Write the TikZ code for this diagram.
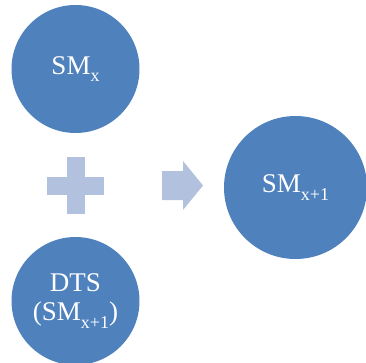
\documentclass[tikz,border=0pt]{standalone}
\usepackage{fontspec}
\setmainfont{Liberation Serif}
\usepackage{tikz}
\usetikzlibrary{positioning}
\definecolor{smblue}{HTML}{4F81BD}
\definecolor{smlight}{HTML}{B1C1DE}
\newcommand{\smsub}[1]{\raisebox{-0.27em}{\fontsize{18}{18}\selectfont #1}}

\begin{document}
\begin{tikzpicture}
[x=1pt, y=1pt,
every node/.style={font=\fontsize{27}{29}\selectfont, text=white},
ball/.style={circle, fill=smblue, inner sep=0pt, minimum size=128pt},
bigball/.style={ball, minimum size=143pt},
sign/.style={fill=smlight}
]
  \useasboundingbox (0,0) rectangle (366,362);
  \node[ball]    (smx)    at (75.5,293)   {SM\smsub{x}};
  \node[ball]    (dts)    at (75.5,61)    [align=center] {DTS\\(SM\smsub{x+1})};
  \node[bigball] (smnext) at (295.5,174.5) {SM\smsub{x+1}};

  % plus sign between the two left circles
  \coordinate (plus) at (75.5,176.5);
  \fill[sign] ([xshift=-9,yshift=-28.5]plus) rectangle ([xshift=9,yshift=28.5]plus);
  \fill[sign] ([xshift=-28.5,yshift=-9]plus) rectangle ([xshift=28.5,yshift=9]plus);

  % block arrow towards the result
  \coordinate (arr) at (162,176.5);
  \fill[sign] ([yshift=-14.5]arr) -- ++(21,0) -- ++(0,-10) -- ++(20,24.5)
    -- ++(-20,24.5) -- ++(0,-10) -- ++(-21,0) -- cycle;
\end{tikzpicture}
\end{document}
